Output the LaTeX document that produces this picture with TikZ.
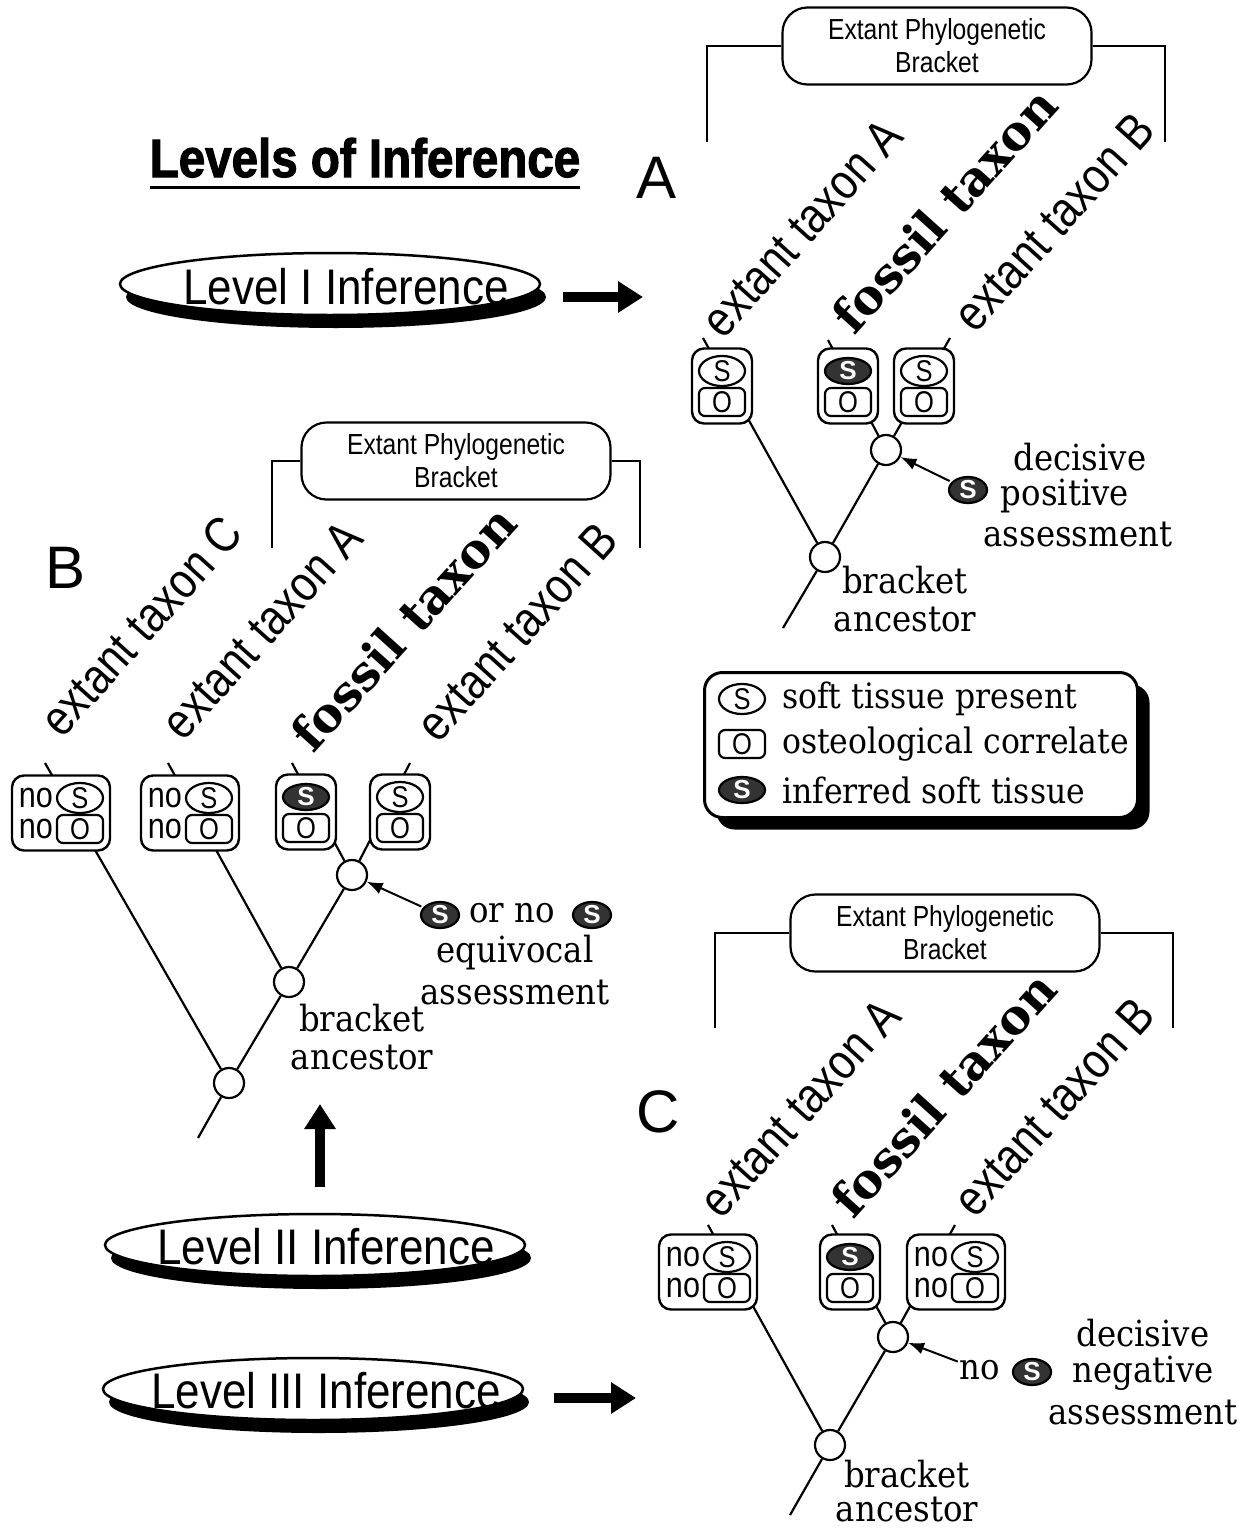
\documentclass[tikz,border=0pt]{standalone}
\usepackage{fontspec}
\setmainfont[FakeStretch=0.9]{DejaVu Serif}
\newfontfamily\nsans[FakeStretch=0.85]{Liberation Sans}
\newfontfamily\lsans{Liberation Sans}
\newfontfamily\lvlsans[FakeStretch=0.88]{Liberation Sans}
\newfontfamily\ttlfont[FakeStretch=0.88, BoldFeatures={FakeBold=2}]{Liberation Sans}
\newfontfamily\fosfont{DejaVu Serif}
\usetikzlibrary{shapes.geometric,arrows.meta,shadows,backgrounds}
\newcommand\fsz[2]{\fontsize{#1}{#2}\selectfont}
\tikzset{
 cbox/.style={draw, line width=2.4, rounded corners=12, fill=white, minimum width=60, minimum height=75, inner sep=0},
 nbox/.style={cbox, minimum width=98},
 sell/.style={ellipse, draw, line width=2.2, fill=white, minimum width=46, minimum height=22, inner sep=0, font=\nsans\fsz{30}{30}},
 fell/.style={sell, fill=black!80, text=white, font=\lsans\bfseries\fsz{26}{26}},
 orect/.style={draw, line width=2.2, rounded corners=6, fill=white, minimum width=46, minimum height=28, inner sep=0, font=\nsans\fsz{30}{30}},
 notext/.style={inner sep=0, font=\nsans\fsz{36}{36}},
 anc/.style={circle, draw, line width=2.2, fill=white, minimum size=30, inner sep=0},
 tree/.style={line width=2.2},
 bline/.style={line width=2.4},
 ebox/.style={draw, line width=2.2, rounded corners=25, fill=white, minimum width=309, minimum height=77, align=center, inner sep=0, font=\nsans\fsz{29}{33}},
 taxon/.style={inner sep=0, rotate=48, font=\nsans\fsz{50}{54}},
 fossil/.style={inner sep=0, rotate=48, font=\fosfont\bfseries\fsz{48}{52}},
 sertext/.style={inner sep=0, font=\fsz{36}{40}},
 legtext/.style={inner sep=0, anchor=west, font=\fsz{35}{40}},
 icon/.style={fell, minimum width=38, minimum height=26},
 plet/.style={inner sep=0, font=\lsans\fsz{60}{60}},
 lvl/.style={ellipse, draw, line width=2.5, fill=white, minimum width=420, minimum height=62, inner sep=0, drop shadow={shadow xshift=6pt, shadow yshift=-13pt, fill=black, opacity=1}},
 lvltext/.style={inner sep=0, font=\lvlsans\fsz{50}{50}},
 bigarrow/.style={line width=10, -{Triangle[length=25pt, width=30pt]}},
 thinarrow/.style={line width=2, -{Latex[length=16pt, width=12pt]}},
 legbox/.style={draw, line width=3, rounded corners=18, fill=white, minimum width=433, minimum height=145, inner sep=0, drop shadow={shadow xshift=12pt, shadow yshift=-12pt, fill=black, opacity=1}}
}
\newcommand\pbox[4]{%
  \node[cbox] (#1) at (#2,#3) {};
  \node[#4] (#1s) at (#2,#3-15) {S};
  \node[orect] (#1o) at (#2,#3+16) {O};
}
\newcommand\nobox[3]{%
  \node[nbox] (#1) at (#2,#3) {};
  \node[sell] (#1s) at (#2+19,#3-15) {S};
  \node[orect] (#1o) at (#2+19,#3+16) {O};
  \node[notext] (#1na) at (#2-25,#3-15) {no};
  \node[notext] (#1nb) at (#2-25,#3+16) {no};
}
\begin{document}
\begin{tikzpicture}[x=1pt,y=-1pt]
\useasboundingbox (0,0) rectangle (1252,1529);
% title
\node[inner sep=0, anchor=base, font=\ttlfont\bfseries\fsz{54}{58}] (title) at (365,177) {Levels of Inference};
\draw[line width=3] ([yshift=-10pt]title.base west) -- ([yshift=-10pt]title.base east);
% panel letters
\node[plet] (lA) at (657,178) {A};
\node[plet] (lB) at (66,568) {B};
\node[plet] (lC) at (658,1112) {C};
% level ellipses
\node[lvl] (l1) at (330,284) {};
\node[lvltext] (l1t) at (346,287) {Level I Inference};
\node[lvl] (l2) at (315,1245) {};
\node[lvltext] (l2t) at (326,1247) {Level II Inference};
\node[lvl] (l3) at (313,1389) {};
\node[lvltext] (l3t) at (326,1391) {Level III Inference};
\coordinate (a1end) at (643,297);
\coordinate (a2end) at (320,1104);
\coordinate (a3end) at (636,1398);
\draw[bigarrow] ([shift={(22pt,-13pt)}]l1.east) -- (a1end);
\draw[bigarrow] ([yshift=26pt]l2.north -| a2end) -- (a2end);
\draw[bigarrow] ([shift={(30pt,-9pt)}]l3.east) -- (a3end);

% ================= Panel A =================
\node[ebox] (ebA) at (937,46) {Extant Phylogenetic\\Bracket};
\coordinate (aBL) at (707,142);
\coordinate (aBR) at (1165,142);
\draw[bline] (ebA.west) -| (aBL);
\draw[bline] (ebA.east) -| (aBR);
\node[taxon] (aTa) at (802,228) {extant taxon A};
\node[fossil] (aTf) at (944,210) {fossil taxon};
\node[taxon] (aTb) at (1054,222) {extant taxon B};
\pbox{aB1}{722}{386}{sell}
\pbox{aB2}{848}{386}{fell}
\pbox{aB3}{924}{386}{sell}
\node[anc] (aN) at (886,450) {};
\node[anc] (aR) at (825,557) {};
\coordinate (aT1) at (703,338);
\coordinate (aT2) at (828,340);
\coordinate (aT3) at (950,338);
\coordinate (aEnd) at (783,628);
\node[icon] (aIc) at (968,490) {S};
\node[sertext] (aD1) at (1080,457) {decisive};
\node[sertext] (aD2) at (1065,496) {positive};
\node[sertext] (aD3) at (1078,535) {assessment};
\node[sertext] (aA1) at (905,580) {bracket};
\node[sertext] (aA2) at (905,620) {ancestor};
\draw[thinarrow, shorten <=2pt] (aIc) -- (aN);

% ================= Legend =================
\node[legbox] (leg) at (921,745) {};
\node[sell] (legS) at (742,699) {S};
\node[legtext] (legSt) at (782,699) {soft tissue present};
\node[orect] (legO) at (742,744) {O};
\node[legtext] (legOt) at (782,744) {osteological correlate};
\node[fell] (legF) at (742,790) {S};
\node[legtext] (legFt) at (782,790) {inferred soft tissue};

% ================= Panel B =================
\node[ebox] (ebB) at (456,461) {Extant Phylogenetic\\Bracket};
\coordinate (bBL) at (272,548);
\coordinate (bBR) at (640,548);
\draw[bline] (ebB.west) -| (bBL);
\draw[bline] (ebB.east) -| (bBR);
\node[taxon] (bTc) at (141,626) {extant taxon C};
\node[taxon] (bTa) at (262,630) {extant taxon A};
\node[fossil] (bTf) at (403,628) {fossil taxon};
\node[taxon] (bTb) at (517,632) {extant taxon B};
\nobox{bB1}{61}{813}
\nobox{bB2}{190}{813}
\pbox{bB3}{306}{812}{fell}
\pbox{bB4}{400}{812}{sell}
\node[anc] (bN1) at (352,875) {};
\node[anc] (bN2) at (289,982) {};
\node[anc] (bR) at (229,1083) {};
\coordinate (bT1) at (45,763);
\coordinate (bT2) at (168,763);
\coordinate (bT3) at (292,763);
\coordinate (bT4) at (410,763);
\coordinate (bEnd) at (198,1138);
\node[icon] (bIc1) at (440,915) {S};
\node[sertext] (bOr) at (512,913) {or no};
\node[icon] (bIc2) at (592,915) {S};
\node[sertext] (bE1) at (515,953) {equivocal};
\node[sertext] (bE2) at (515,992) {assessment};
\node[sertext] (bA1) at (362,1018) {bracket};
\node[sertext] (bA2) at (362,1057) {ancestor};
\draw[thinarrow, shorten <=2pt] (bIc1) -- (bN1);

% ================= Panel C =================
\node[ebox] (ebC) at (945,933) {Extant Phylogenetic\\Bracket};
\coordinate (cBL) at (715,1028);
\coordinate (cBR) at (1173,1028);
\draw[bline] (ebC.west) -| (cBL);
\draw[bline] (ebC.east) -| (cBR);
\node[taxon] (cTa) at (800,1108) {extant taxon A};
\node[fossil] (cTf) at (943,1094) {fossil taxon};
\node[taxon] (cTb) at (1054,1107) {extant taxon B};
\nobox{cB1}{708}{1272}
\pbox{cB2}{850}{1272}{fell}
\nobox{cB3}{956}{1272}
\node[anc] (cN) at (893,1337) {};
\node[anc] (cR) at (830,1445) {};
\coordinate (cT1) at (708,1225);
\coordinate (cT2) at (832,1225);
\coordinate (cT3) at (955,1225);
\coordinate (cEnd) at (790,1515);
\node[sertext] (cNo) at (980,1370) {no};
\node[icon] (cIc) at (1032,1372) {S};
\node[sertext] (cD1) at (1143,1333) {decisive};
\node[sertext] (cD2) at (1143,1373) {negative};
\node[sertext] (cD3) at (1143,1412) {assessment};
\node[sertext] (cA1) at (907,1474) {bracket};
\node[sertext] (cA2) at (907,1509) {ancestor};
\draw[thinarrow, shorten <=2pt] (cNo) -- (cN);

% ================= tree lines behind =================
\begin{pgfonlayer}{background}
\draw[tree] (aR) -- (aT1);
\draw[tree] (aN) -- (aT2);
\draw[tree] (aN) -- (aT3);
\draw[tree] (aR) -- (aN);
\draw[tree] (aR) -- (aEnd);
\draw[tree] (bR) -- (bT1);
\draw[tree] (bN2) -- (bT2);
\draw[tree] (bN1) -- (bT3);
\draw[tree] (bN1) -- (bT4);
\draw[tree] (bR) -- (bN2);
\draw[tree] (bN2) -- (bN1);
\draw[tree] (bR) -- (bEnd);
\draw[tree] (cR) -- (cT1);
\draw[tree] (cN) -- (cT2);
\draw[tree] (cN) -- (cT3);
\draw[tree] (cR) -- (cN);
\draw[tree] (cR) -- (cEnd);
\end{pgfonlayer}
\end{tikzpicture}
\end{document}
